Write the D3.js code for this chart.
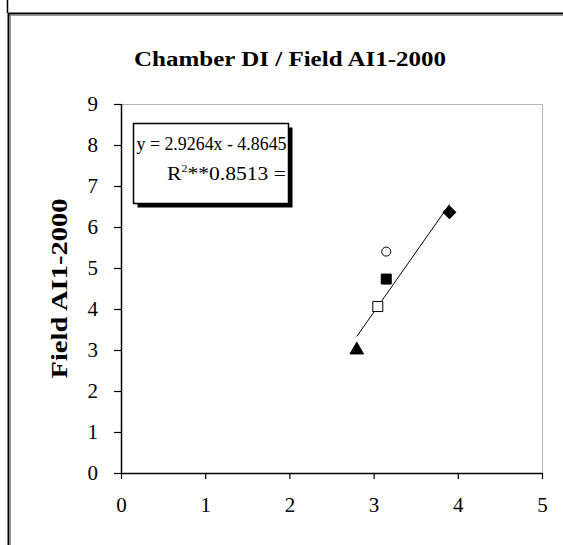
<!DOCTYPE html>
<html>
<head>
<meta charset="utf-8">
<script src="https://cdn.jsdelivr.net/npm/d3@7/dist/d3.min.js"></script>
<style>
  html, body { margin: 0; padding: 0; background: #fff; }
  svg { display: block; }
</style>
</head>
<body>
<svg id="chart" width="563" height="545"></svg>
<script>
// ---- data ----
const seriesNames = ["Series A", "Series B", "Series C", "Series D", "Series E"];
const xValues = [3.9, 3.15, 3.15, 3.05, 2.8];
const yValues = [6.36, 5.40, 4.73, 4.06, 3.0];
const xTicks = [0, 1, 2, 3, 4, 5];
const yTicks = [0, 1, 2, 3, 4, 5, 6, 7, 8, 9];
const trendSlope = 2.9264;
const trendIntercept = -4.8645;
const titleText = "Chamber DI / Field AI1-2000";
const yAxisTitle = "Field  AI1-2000";
const eqLine1 = "y = 2.9264x - 4.8645";
const eqLine2a = "R";
const eqLine2sup = "2";
const eqLine2b = "**0.8513 =";

(function () {
// ---- layout ----
const svg = d3.select("#chart");
const pLeft = 121, pRight = 542, pTop = 104, pBottom = 473;
const x = d3.scaleLinear().domain([0, 5]).range([pLeft, pRight]);
const y = d3.scaleLinear().domain([0, 9]).range([pBottom, pTop]);
const serif = "'Liberation Serif', 'Times New Roman', serif";

// page frame
svg.append("line").attr("x1", 7.5).attr("x2", 7.5).attr("y1", 0).attr("y2", 13)
  .attr("stroke", "#000").attr("stroke-width", 1.5);
svg.append("line").attr("x1", 8).attr("x2", 563).attr("y1", 13.5).attr("y2", 13.5)
  .attr("stroke", "#000").attr("stroke-width", 2);
svg.append("line").attr("x1", 9).attr("x2", 563).attr("y1", 15.5).attr("y2", 15.5)
  .attr("stroke", "#999").attr("stroke-width", 1);
svg.append("line").attr("x1", 8.5).attr("x2", 8.5).attr("y1", 13).attr("y2", 545)
  .attr("stroke", "#000").attr("stroke-width", 2);
svg.append("line").attr("x1", 10.5).attr("x2", 10.5).attr("y1", 15).attr("y2", 545)
  .attr("stroke", "#999").attr("stroke-width", 1);

// plot area border (light gray top and right)
svg.append("path")
  .attr("d", `M${pLeft},${pTop + 0.5}H${pRight + 0.5}V${pBottom}`)
  .attr("fill", "none").attr("stroke", "#b4b4b4").attr("stroke-width", 1);

// title
svg.append("text").attr("x", 134).attr("y", 66)
  .attr("font-family", serif).attr("font-weight", "bold").attr("font-size", 20)
  .attr("textLength", 312).attr("lengthAdjust", "spacingAndGlyphs")
  .text(titleText);

// axes
const xAxis = d3.axisBottom(x).tickValues(xTicks).tickFormat(d3.format("d"))
  .tickSize(6).tickPadding(18);
const yAxis = d3.axisLeft(y).tickValues(yTicks).tickFormat(d3.format("d"))
  .tickSize(7).tickPadding(16);

const gx = svg.append("g").attr("transform", `translate(0,${pBottom})`).call(xAxis);
const gy = svg.append("g").attr("transform", `translate(${pLeft},0)`).call(yAxis);
[gx, gy].forEach(g => {
  g.select(".domain").attr("stroke", "#000").attr("stroke-width", 1.5);
  g.selectAll(".tick line").attr("stroke", "#000").attr("stroke-width", 1.2);
  g.selectAll(".tick text").attr("font-family", serif).attr("font-size", 21).attr("fill", "#000");
});
gx.select(".domain").attr("d", `M${pLeft},0.5H${pRight}`);
gy.select(".domain").attr("d", `M0.5,${pBottom}V${pTop}`);

// y axis title
svg.append("text")
  .attr("transform", `translate(67,${(pTop + pBottom) / 2 + 90}) rotate(-90)`)
  .attr("font-family", serif).attr("font-weight", "bold").attr("font-size", 23)
  .attr("textLength", 180).attr("lengthAdjust", "spacingAndGlyphs")
  .text(yAxisTitle);

// trend line
const xmin = d3.min(xValues), xmax = d3.max(xValues);
svg.append("line")
  .attr("x1", x(xmin)).attr("y1", y(trendSlope * xmin + trendIntercept))
  .attr("x2", x(xmax)).attr("y2", y(trendSlope * xmax + trendIntercept))
  .attr("stroke", "#000").attr("stroke-width", 1);

// markers
const markerFor = i => [
  { type: d3.symbolSquare, size: 80, rot: 45, fill: "#000" },
  { type: d3.symbolCircle, size: 64, rot: 0, fill: "#fff" },
  { type: d3.symbolSquare, size: 100, rot: 0, fill: "#000" },
  { type: d3.symbolSquare, size: 100, rot: 0, fill: "#fff" },
  { type: d3.symbolTriangle, size: 80, rot: 0, fill: "#000" }
][i];
svg.append("g").selectAll("path").data(seriesNames).join("path")
  .attr("d", (d, i) => d3.symbol().type(markerFor(i).type).size(markerFor(i).size)())
  .attr("transform", (d, i) => `translate(${x(xValues[i])},${y(yValues[i])}) rotate(${markerFor(i).rot})`)
  .attr("fill", (d, i) => markerFor(i).fill)
  .attr("stroke", "#000").attr("stroke-width", 1);

// equation box with shadow
const bx = 133.5, by = 123.5, bw = 155, bh = 80;
svg.append("rect").attr("x", bx + 4).attr("y", by + 4).attr("width", bw).attr("height", bh)
  .attr("fill", "#000");
svg.append("rect").attr("x", bx).attr("y", by).attr("width", bw).attr("height", bh)
  .attr("fill", "#fff").attr("stroke", "#000").attr("stroke-width", 1.5);
svg.append("text").attr("x", bx + 3).attr("y", 150)
  .attr("font-family", serif).attr("font-size", 18)
  .attr("textLength", 150).attr("lengthAdjust", "spacingAndGlyphs")
  .text(eqLine1);
const t2 = svg.append("text").attr("x", 167).attr("y", 180)
  .attr("font-family", serif).attr("font-size", 18)
  .attr("textLength", 119).attr("lengthAdjust", "spacingAndGlyphs");
t2.append("tspan").text(eqLine2a);
t2.append("tspan").attr("dy", -8).attr("font-size", 10).text(eqLine2sup);
t2.append("tspan").attr("dy", 8).text(eqLine2b);
})();
</script>
</body>
</html>
